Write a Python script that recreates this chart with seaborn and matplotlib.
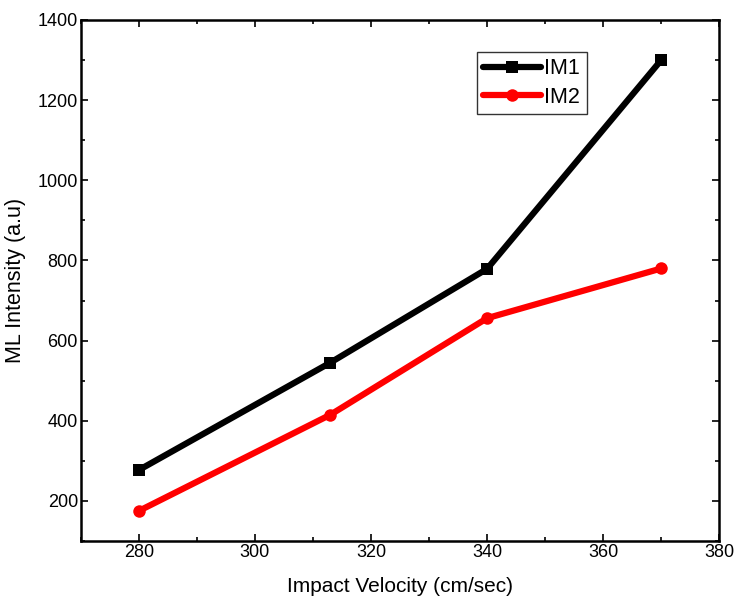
import matplotlib
matplotlib.use("Agg")
import matplotlib.pyplot as plt
import seaborn as sns
import pandas as pd
from matplotlib.ticker import MultipleLocator

velocity = [280, 313, 340, 370]
im1 = [277, 545, 779, 1300]
im2 = [175, 415, 656, 780]
series_names = ["IM1", "IM2"]

df = pd.DataFrame({
    "Velocity": velocity * 2,
    "Intensity": im1 + im2,
    "Series": [series_names[0]] * len(velocity) + [series_names[1]] * len(velocity),
})

sns.set_theme(style="ticks")
plt.rcParams["font.family"] = ["Liberation Sans", "DejaVu Sans"]
plt.rcParams["text.color"] = "black"
plt.rcParams["axes.labelcolor"] = "black"

fig = plt.figure(figsize=(7.35, 6.0), dpi=100)
ax = fig.add_axes([0.1098, 0.0983, 0.8688, 0.8684])

sns.lineplot(data=df, x="Velocity", y="Intensity", hue="Series", style="Series",
             palette={"IM1": "black", "IM2": "red"},
             markers={"IM1": "s", "IM2": "o"}, dashes=False,
             markersize=9, linewidth=4.5, markeredgewidth=0, ax=ax)

ax.set_xlim(270, 380)
ax.set_ylim(100, 1400)
ax.xaxis.set_major_locator(MultipleLocator(20))
ax.xaxis.set_minor_locator(MultipleLocator(10))
ax.yaxis.set_major_locator(MultipleLocator(200))
ax.yaxis.set_minor_locator(MultipleLocator(100))
ax.set_yticks([200, 400, 600, 800, 1000, 1200, 1400])
ax.tick_params(which="both", direction="in", top=True, right=True, width=1.2,
               colors="black", labelcolor="black")
ax.tick_params(which="major", length=5, labelsize=13, pad=2)
ax.tick_params(which="minor", length=3)
for s in ax.spines.values():
    s.set_linewidth(1.8)
    s.set_color("black")

ax.set_xlabel("Impact Velocity (cm/sec)", fontsize=15, labelpad=12, color="black")
ax.set_ylabel("ML Intensity (a.u)", fontsize=15.5, labelpad=8, color="black")

leg = ax.legend(loc="upper left", bbox_to_anchor=(0.62, 0.939), fontsize=15.5,
                handlelength=2.7, frameon=True, fancybox=False, borderpad=0.3,
                labelspacing=0.35, handletextpad=0.15, borderaxespad=0)
leg.get_frame().set_edgecolor("black")
leg.get_frame().set_linewidth(1.0)
leg.set_title(None)
for t in leg.get_texts():
    t.set_color("black")

fig.savefig("out.png", dpi=100)
